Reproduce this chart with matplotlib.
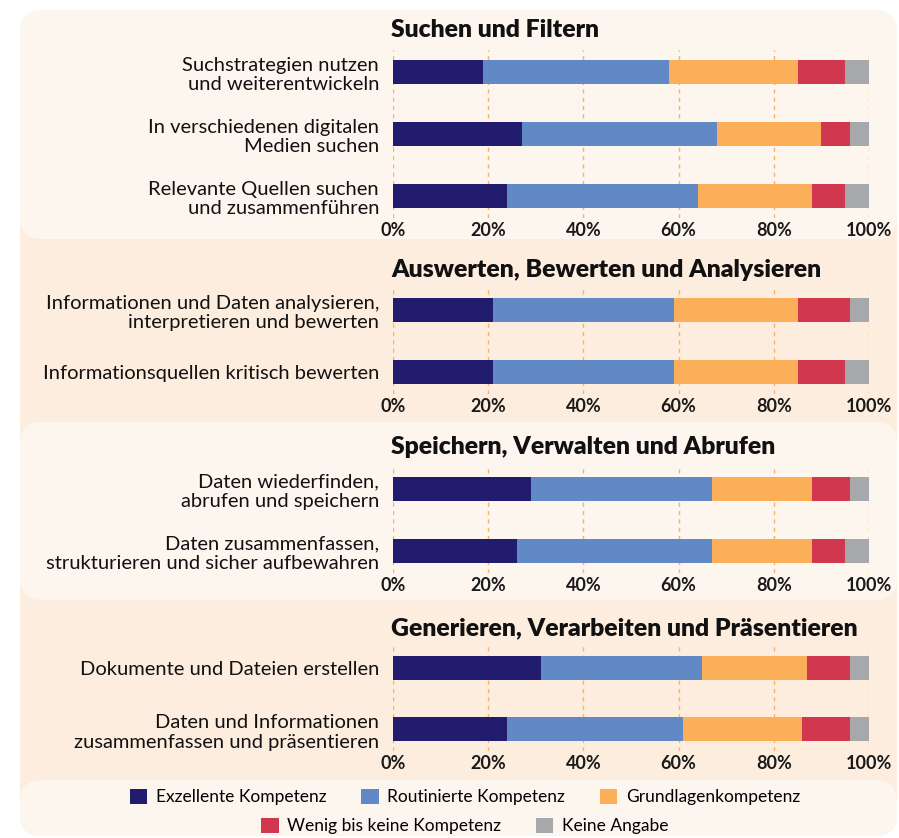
import matplotlib
matplotlib.use("Agg")
import matplotlib.pyplot as plt
from matplotlib.patches import FancyBboxPatch, Patch
import numpy as np

plt.rcParams['font.family'] = ['Lato', 'DejaVu Sans']

# Daten (Prozent)
categories = ["Exzellente Kompetenz", "Routinierte Kompetenz", "Grundlagenkompetenz",
              "Wenig bis keine Kompetenz", "Keine Angabe"]
colors = ["#221C6E", "#6089C6", "#FAAF58", "#D1374F", "#A7A8AB"]

titles = ["Suchen und Filtern",
          "Auswerten, Bewerten und Analysieren",
          "Speichern, Verwalten und Abrufen",
          "Generieren, Verarbeiten und Präsentieren"]

labels_1 = ["Suchstrategien nutzen\nund weiterentwickeln",
            "In verschiedenen digitalen\nMedien suchen",
            "Relevante Quellen suchen\nund zusammenführen"]
values_1 = [[19, 39, 27, 10, 5],
            [27, 41, 22, 6, 4],
            [24, 40, 24, 7, 5]]

labels_2 = ["Informationen und Daten analysieren,\ninterpretieren und bewerten",
            "Informationsquellen kritisch bewerten"]
values_2 = [[21, 38, 26, 11, 4],
            [21, 38, 26, 10, 5]]

labels_3 = ["Daten wiederfinden,\nabrufen und speichern",
            "Daten zusammenfassen,\nstrukturieren und sicher aufbewahren"]
values_3 = [[29, 38, 21, 8, 4],
            [26, 41, 21, 7, 5]]

labels_4 = ["Dokumente und Dateien erstellen",
            "Daten und Informationen\nzusammenfassen und präsentieren"]
values_4 = [[31, 34, 22, 9, 4],
            [24, 37, 25, 10, 4]]

ticks = [0, 20, 40, 60, 80, 100]
tick_labels = ["0%", "20%", "40%", "60%", "80%", "100%"]

W, H = 899, 838
fig = plt.figure(figsize=(W / 100, H / 100), dpi=100)
fig.patch.set_facecolor("white")

# Hintergrund in Pixelkoordinaten
bg = fig.add_axes([0, 0, 1, 1], zorder=-10)
bg.set_xlim(0, W)
bg.set_ylim(H, 0)
bg.axis("off")
light = "#FDF6EF"
dark = "#FDEDDE"
bg.add_patch(FancyBboxPatch((20, 200), 877, 636, boxstyle="round,pad=0,rounding_size=22",
                            fc=dark, ec="none"))
for y0, y1 in [(10, 239), (422, 600), (780, 836)]:
    bg.add_patch(FancyBboxPatch((20, y0), 877, y1 - y0, boxstyle="round,pad=0,rounding_size=22",
                                fc=light, ec="none"))

panels = [(labels_1, values_1, [72, 134, 196], 30),
          (labels_2, values_2, [310, 372], 270),
          (labels_3, values_3, [489, 551], 447),
          (labels_4, values_4, [668, 729], 628)]

x0_px, x1_px = 393, 869
step = 62
half = 22
for (labels, values, centers, title_y), title in zip(panels, titles):
    top = centers[0] - half
    bottom = centers[-1] + half
    ax = fig.add_axes([x0_px / W, 1 - bottom / H, (x1_px - x0_px) / W, (bottom - top) / H])
    ax.patch.set_alpha(0)
    n = len(labels)
    ypos = np.arange(n)
    vals = np.array(values, dtype=float)
    left = np.zeros(n)
    for j in range(vals.shape[1]):
        ax.barh(ypos, vals[:, j], left=left, height=24 / step, color=colors[j],
                edgecolor="none", zorder=3)
        left += vals[:, j]
    ax.set_xlim(0, 100)
    ax.set_ylim(n - 1 + half / step, -half / step)
    ax.set_xticks(ticks)
    ax.set_xticklabels(tick_labels, fontsize=13, fontweight="bold", color="#1a1a1a")
    ax.set_yticks(ypos)
    ax.set_yticklabels(labels, fontsize=14.5, color="#111111", multialignment="right",
                       linespacing=1.2)
    ax.tick_params(axis="both", length=0)
    ax.tick_params(axis="x", pad=3)
    ax.tick_params(axis="y", pad=10)
    for s in ax.spines.values():
        s.set_visible(False)
    ax.grid(axis="x", color="#F7B267", linestyle=(0, (3, 3)), linewidth=1, zorder=0)
    ax.set_axisbelow(True)
    fig.text((x0_px - 2) / W, 1 - title_y / H, title, fontsize=17.8, fontweight="heavy",
             ha="left", va="center", color="#111111")

# Legende in zwei Zeilen
handles = [Patch(facecolor=c, edgecolor="none") for c in colors]
leg1 = fig.legend(handles[:3], categories[:3], loc="center", bbox_to_anchor=(465 / W, 1 - 797 / H),
                  ncol=3, frameon=False, fontsize=12.5, handlelength=1.0, handleheight=1.0,
                  columnspacing=2.0, handletextpad=0.5)
leg2 = fig.legend(handles[3:], categories[3:], loc="center", bbox_to_anchor=(465 / W, 1 - 826 / H),
                  ncol=2, frameon=False, fontsize=12.5, handlelength=1.0, handleheight=1.0,
                  columnspacing=2.0, handletextpad=0.5)

fig.savefig("out.png", dpi=100)
